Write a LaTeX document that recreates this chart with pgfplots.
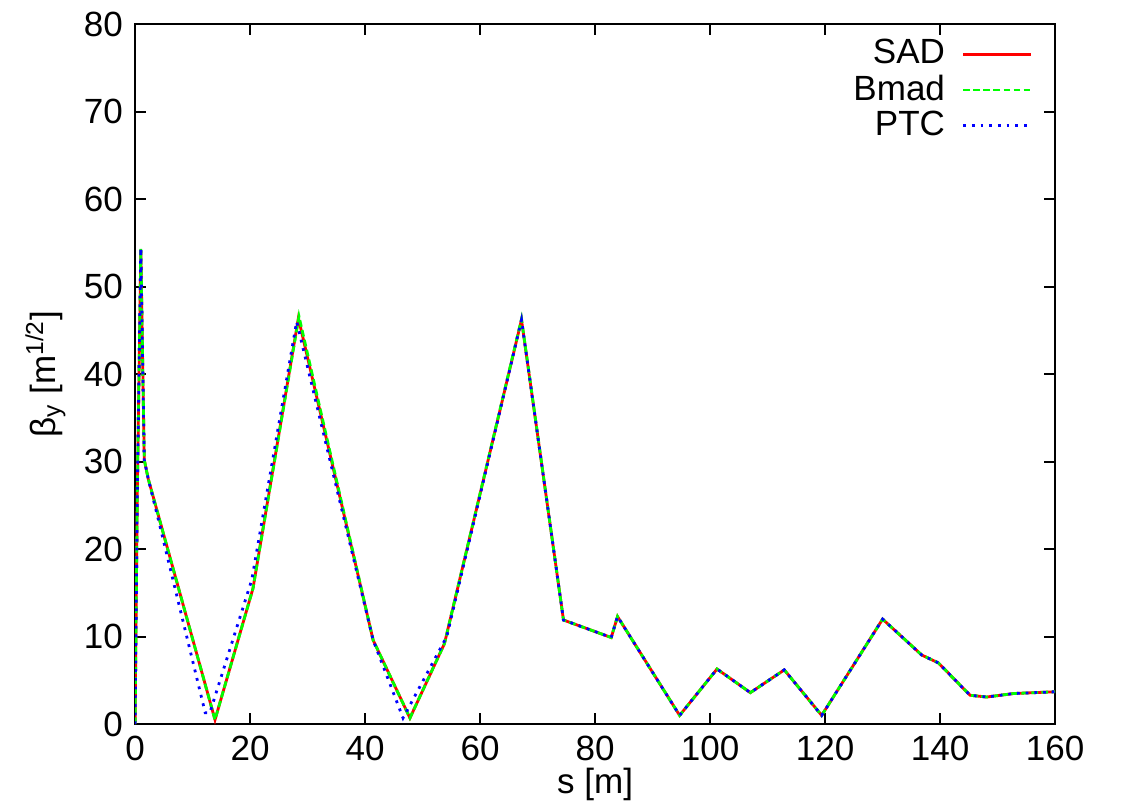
\documentclass[border=0pt]{standalone}
\usepackage{fontspec}
\setmainfont{Liberation Sans}
\usepackage{pgfplots}
\pgfplotsset{compat=1.18}

% SAD optics, Bmad is on top of it, PTC differs near the two minima
\pgfplotstableread{
s beta
0.0 0.0
0.4 27.0
1.0 54.2
1.6 30.2
2.3 28.0
13.9 0.5
20.5 15.5
28.4 46.4
41.4 9.6
47.8 0.7
53.8 9.2
67.2 46.2
74.5 11.9
82.8 9.9
83.9 12.3
94.7 1.0
101.2 6.3
107.0 3.6
112.9 6.2
119.4 1.0
130.0 12.0
136.8 7.9
139.7 7.0
145.2 3.3
148.1 3.1
152.8 3.5
160.0 3.7
}\sad

\pgfplotstableread{
s beta
0.0 0.0
0.4 27.0
1.0 54.3
1.6 30.2
2.3 28.0
13.9 0.5
20.5 15.5
28.5 46.6
41.4 9.6
47.8 0.7
53.8 9.2
67.2 46.3
74.5 11.9
82.8 9.9
83.9 12.3
94.7 1.0
101.2 6.3
107.0 3.6
112.9 6.2
119.4 1.0
130.0 12.0
136.8 7.9
139.7 7.0
145.2 3.3
148.1 3.1
152.8 3.5
160.0 3.7
}\bmad

\pgfplotstableread{
s beta
0.0 0.0
0.4 27.0
1.0 54.4
1.6 30.2
2.3 28.0
4.0 23.5
12.2 1.3
13.0 1.3
20.3 16.5
28.1 46.0
41.4 9.6
46.6 0.7
54.2 10.0
67.2 46.2
74.5 11.9
82.8 9.9
83.9 12.3
94.7 1.0
101.2 6.3
107.0 3.6
112.9 6.2
119.4 1.0
130.0 12.0
136.8 7.9
139.7 7.0
145.2 3.3
148.1 3.1
152.8 3.5
160.0 3.7
}\ptc

\begin{document}
\fontsize{12.5}{14.5}\selectfont
\begin{tikzpicture}
\path[use as bounding box] (-48.2pt,-29.6pt) rectangle (351.8pt,258.4pt);
\begin{axis}[
    at={(0,0)}, anchor=south west,
    scale only axis,
    width=328.3pt, height=249.8pt,
    xmin=0, xmax=160, ymin=0, ymax=80,
    xtick={0,20,...,160}, ytick={0,10,...,80},
    tick align=inside, tick pos=both,
    major tick length=4pt,
    axis line style={line width=0.7pt},
    tick style={line width=0.7pt, black},
    /pgf/number format/assume math mode=true,
    ticklabel style={font=\fontsize{12.5}{14.5}\selectfont},
    label style={font=\fontsize{12.5}{14.5}\selectfont},
    xlabel={s [m]},
    ylabel={β\textsubscript{y} [m\textsuperscript{1/2}]},
    xlabel style={yshift=6pt},
    ylabel style={yshift=-2pt},
    legend plot pos=right,
    legend cell align=right,
    legend style={draw=none, fill=none, at={(0.985,0.995)}, anchor=north east,
        row sep=-2pt, column sep=4pt, font=\fontsize{12.5}{14.5}\selectfont},
    legend image code/.code={\draw[#1] (0cm,0cm) -- (0.85cm,0cm);},
]
\addplot[color=red, line width=1pt] table[x=s, y=beta] {\sad};
\addlegendentry{SAD}
\addplot[color=green, line width=1pt, dash pattern=on 2.4pt off 1.2pt] table[x=s, y=beta] {\bmad};
\addlegendentry{Bmad}
\addplot[color=blue, line width=1pt, dash pattern=on 1pt off 2.1pt] table[x=s, y=beta] {\ptc};
\addlegendentry{PTC}
\end{axis}
\end{tikzpicture}
\end{document}
